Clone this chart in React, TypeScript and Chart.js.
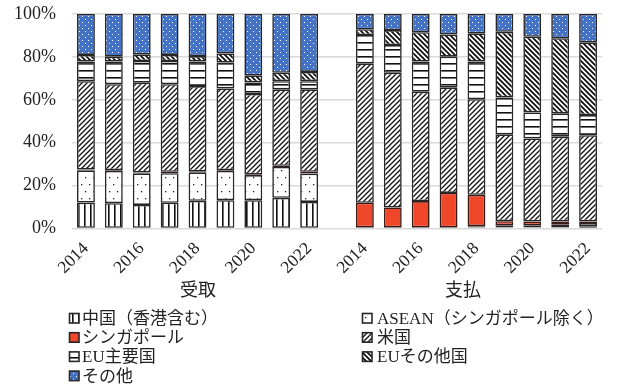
import React, { useEffect, useRef } from 'react';
import { Chart, registerables } from 'chart.js';
Chart.register(...registerables);

const years = ['2014', '2015', '2016', '2017', '2018', '2019', '2020', '2021', '2022'];
const groupNames = ['受取', '支払'];
const seriesNames = ['中国（香港含む）', 'ASEAN（シンガポール除く）', 'シンガポール', '米国', 'EU主要国', 'EUその他国', 'その他'];

const recvChina = [12.1, 11.8, 11.0, 12.0, 12.9, 13.2, 13.2, 14.3, 12.4];
const recvAsean = [15.0, 15.0, 14.7, 13.8, 13.3, 13.6, 11.7, 14.4, 13.2];
const recvSingapore = [0.4, 0.4, 0.4, 0.6, 0.5, 0.4, 0.4, 0.5, 0.8];
const recvUS = [41.2, 40.1, 41.9, 40.9, 39.7, 38.1, 37.4, 35.7, 38.5];
const recvEuMajor = [9.1, 10.5, 10.1, 10.8, 11.4, 12.1, 5.4, 3.8, 3.8];
const recvEuOther = [3.1, 2.3, 3.1, 2.8, 2.6, 4.2, 3.3, 3.9, 4.3];
const recvOther = [19.1, 19.9, 18.8, 19.1, 19.6, 18.4, 28.6, 27.4, 27.0];

const payChina = [0.2, 0.2, 0.2, 0.2, 0.5, 0.6, 0.6, 0.6, 1.0];
const payAsean = [0.3, 0.3, 0.3, 0.3, 0.6, 0.9, 0.9, 1.2, 1.6];
const paySingapore = [11.5, 9.3, 12.3, 16.1, 14.6, 1.9, 1.8, 1.5, 0.7];
const payUS = [65.0, 62.8, 51.0, 49.2, 44.6, 40.5, 38.7, 39.5, 40.2];
const payEuMajor = [13.2, 12.9, 14.0, 14.3, 17.5, 17.2, 12.1, 10.9, 9.4];
const payEuOther = [2.7, 7.0, 13.7, 10.4, 13.2, 30.6, 35.3, 35.0, 33.9];
const payOther = [7.1, 7.5, 8.5, 9.5, 9.0, 8.3, 10.6, 11.3, 13.2];

const yTicks = [0, 20, 40, 60, 80, 100];

const FONT = '"Liberation Serif", "Noto Sans CJK JP", serif';
const BORDER = '#262626';

function makePattern(kind: string): CanvasPattern | string {
  const c = document.createElement('canvas');
  const g = c.getContext('2d')!;
  if (kind === 'china') {
    c.width = 6; c.height = 6;
    g.fillStyle = '#fff'; g.fillRect(0, 0, 6, 6);
    g.fillStyle = '#111'; g.fillRect(0, 0, 1.6, 6);
  } else if (kind === 'asean') {
    c.width = 8; c.height = 14;
    g.fillStyle = '#fff'; g.fillRect(0, 0, 8, 14);
    g.fillStyle = '#222';
    g.fillRect(1, 2, 1.3, 1.3);
    g.fillRect(5, 9, 1.3, 1.3);
  } else if (kind === 'us') {
    c.width = 5; c.height = 5;
    g.fillStyle = '#fff'; g.fillRect(0, 0, 5, 5);
    g.strokeStyle = '#111'; g.lineWidth = 1.3;
    g.beginPath();
    g.moveTo(-1, 6); g.lineTo(6, -1);
    g.moveTo(-1, 1); g.lineTo(1, -1);
    g.moveTo(4, 6); g.lineTo(6, 4);
    g.stroke();
  } else if (kind === 'euMajor') {
    c.width = 6; c.height = 7;
    g.fillStyle = '#fff'; g.fillRect(0, 0, 6, 7);
    g.fillStyle = '#111'; g.fillRect(0, 0, 6, 1.6);
  } else if (kind === 'euOther') {
    c.width = 5; c.height = 5;
    g.fillStyle = '#fff'; g.fillRect(0, 0, 5, 5);
    g.strokeStyle = '#111'; g.lineWidth = 1.8;
    g.beginPath();
    g.moveTo(-1, -1); g.lineTo(6, 6);
    g.moveTo(4, -1); g.lineTo(6, 1);
    g.moveTo(-1, 4); g.lineTo(1, 6);
    g.stroke();
  } else if (kind === 'other') {
    c.width = 6; c.height = 6;
    g.fillStyle = '#4472C4'; g.fillRect(0, 0, 6, 6);
    g.fillStyle = '#fff';
    g.fillRect(1, 1, 1, 1);
    g.fillRect(4, 4, 1, 1);
  } else {
    return '#F0462A';
  }
  return g.createPattern(c, 'repeat')!;
}

export default function App() {
  const ref = useRef<HTMLCanvasElement>(null);
  useEffect(() => {
    const canvas = ref.current!;
    const labels = [...years, '', ...years];
    const join = (a: number[], b: number[]) => [...a, null, ...b];
    const kinds = ['china', 'asean', 'sg', 'us', 'euMajor', 'euOther', 'other'];
    const fills = kinds.map(makePattern);
    const series = [
      join(recvChina, payChina),
      join(recvAsean, payAsean),
      join(recvSingapore, paySingapore),
      join(recvUS, payUS),
      join(recvEuMajor, payEuMajor),
      join(recvEuOther, payEuOther),
      join(recvOther, payOther),
    ];
    const datasets = series.map((d, i) => ({
      label: seriesNames[i],
      data: d,
      backgroundColor: fills[i] as any,
      borderColor: i === 2 ? '#3a1a14' : BORDER,
      borderWidth: 1.6,
      borderSkipped: false as any,
      barPercentage: 0.64,
      categoryPercentage: 1,
    }));

    const overlay = {
      id: 'overlay',
      afterDraw(chart: any) {
        const ctx = chart.ctx;
        ctx.save();
        ctx.fillStyle = '#222';
        ctx.textBaseline = 'middle';
        ctx.textAlign = 'center';
        ctx.font = `18px ${FONT}`;
        ctx.fillText(groupNames[0], 198, 291);
        ctx.fillText(groupNames[1], 463, 291);
        ctx.textAlign = 'left';
        ctx.font = `17px ${FONT}`;
        const colSw = [69.5, 362.5];
        const colTx = [82, 377];
        seriesNames.forEach((name, i) => {
          const col = i % 2;
          const row = Math.floor(i / 2);
          const yc = 318.5 + row * 19.2;
          ctx.fillStyle = fills[i] as any;
          ctx.fillRect(colSw[col], yc - 5, 9.5, 9.5);
          ctx.strokeStyle = BORDER;
          ctx.lineWidth = 1.6;
          ctx.strokeRect(colSw[col], yc - 5, 9.5, 9.5);
          ctx.fillStyle = '#222';
          ctx.fillText(name, colTx[col], yc + 1);
        });
        ctx.restore();
      },
    };

    const chart = new Chart(canvas, {
      type: 'bar',
      data: { labels, datasets: datasets as any },
      options: {
        responsive: false,
        animation: false,
        devicePixelRatio: 1,
        layout: { padding: { top: 14, right: 22, left: 0, bottom: 0 } },
        plugins: { legend: { display: false }, tooltip: { enabled: false } },
        scales: {
          x: {
            stacked: true,
            grid: { display: false },
            border: { display: false },
            ticks: {
              autoSkip: false,
              maxRotation: 45,
              minRotation: 45,
              padding: 2,
              color: '#222',
              font: { family: FONT, size: 17.5 },
              callback: (_v: any, i: number) => (i % 2 === 0 ? labels[i] : ''),
            },
            afterFit: (s: any) => {
              s.height = 385 - 228.5;
              s.paddingLeft = 0;
              s.paddingRight = 0;
            },
          },
          y: {
            stacked: true,
            min: 0,
            max: 100,
            afterBuildTicks: (s: any) => { s.ticks = yTicks.map((v) => ({ value: v })); },
            grid: { color: '#d9d9d9', lineWidth: 1.5, drawTicks: false },
            border: { display: false },
            ticks: {
              padding: 16,
              color: '#222',
              font: { family: FONT, size: 18 },
              callback: (v: any) => `${v}%`,
            },
            afterFit: (s: any) => {
              s.width = 72;
              s.paddingTop = 0;
              s.paddingBottom = 0;
            },
          },
        },
      },
      plugins: [overlay],
    });
    return () => chart.destroy();
  }, []);
  return (
    <div style={{ position: 'absolute', left: 0, top: 0, width: 624, height: 385, background: '#fff' }}>
      <canvas ref={ref} width={624} height={385} style={{ width: 624, height: 385, display: 'block' }} />
    </div>
  );
}
